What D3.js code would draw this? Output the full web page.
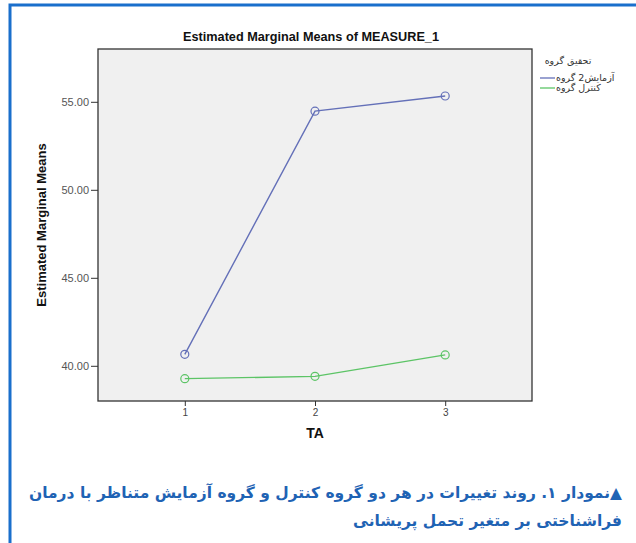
<!DOCTYPE html>
<html>
<head>
<meta charset="utf-8">
<script src="https://cdn.jsdelivr.net/npm/d3@7"></script>
<style>
  body { margin: 0; background: #fff; }
  svg { display: block; }
</style>
</head>
<body>
<div id="chart"></div>
<script>
const levels = [1, 2, 3];
const seriesNames = ["آزمایش2 گروه", "کنترل گروه"];
const experimentMeans = [40.65, 54.47, 55.33];
const controlMeans = [39.27, 39.40, 40.62];
const yTicks = [40, 45, 50, 55];
const legendTitle = "تحقیق گروه";
const captionLines = [
  "▲نمودار ۱. روند تغییرات در هر دو گروه کنترل و گروه آزمایش متناظر با درمان",
  "فراشناختی بر متغیر تحمل پریشانی"
];

const W = 636, H = 543;
const margin = { top: 49, left: 98 },
      width = 532 - 98,
      height = 401 - 49;

const svg = d3.select("#chart")
              .append("svg")
              .attr("width", W)
              .attr("height", H);

// blue frame of the figure
svg.append("path")
   .attr("d", `M10,${H} V5 H${W}`)
   .attr("fill", "none")
   .attr("stroke", "#1a6fcc")
   .attr("stroke-width", 3);

const g = svg.append("g")
             .attr("transform", `translate(${margin.left},${margin.top})`);

const x = d3.scaleLinear()
            .domain([1 / 3, 11 / 3])
            .range([0, width]);

const y = d3.scaleLinear()
            .domain([38, 58])
            .range([height, 0]);

g.append("rect")
 .attr("width", width)
 .attr("height", height)
 .attr("fill", "#f0f0f0")
 .attr("stroke", "#333")
 .attr("stroke-width", 1.3);

// Y Axis
const yAxis = g.append("g")
               .call(d3.axisLeft(y).tickValues(yTicks).tickSize(7).tickFormat(d3.format(".2f")));
yAxis.select(".domain").remove();
yAxis.selectAll("line").attr("stroke", "#333");
yAxis.selectAll("text")
     .attr("x", -9)
     .attr("fill", "#555")
     .style("font-family", "'Liberation Sans', Arial, sans-serif")
     .style("font-size", "11px");

// X Axis
const xAxis = g.append("g")
               .attr("transform", `translate(0,${height})`)
               .call(d3.axisBottom(x).tickValues(levels).tickSize(5).tickFormat(d3.format("d")));
xAxis.select(".domain").remove();
xAxis.selectAll("line").attr("stroke", "#333");
xAxis.selectAll("text")
     .attr("y", 8)
     .attr("fill", "#444")
     .style("font-family", "'Liberation Sans', Arial, sans-serif")
     .style("font-size", "10px");

// titles
svg.append("text")
   .attr("x", 311)
   .attr("y", 41)
   .attr("text-anchor", "middle")
   .style("font-family", "'Liberation Sans', Arial, sans-serif")
   .style("font-weight", "bold")
   .style("font-size", "12.7px")
   .attr("fill", "#111")
   .text("Estimated Marginal Means of MEASURE_1");

svg.append("text")
   .attr("x", 315)
   .attr("y", 438)
   .attr("text-anchor", "middle")
   .style("font-family", "'Liberation Sans', Arial, sans-serif")
   .style("font-weight", "bold")
   .style("font-size", "14px")
   .attr("fill", "#111")
   .text("TA");

svg.append("text")
   .attr("transform", "translate(46,225) rotate(-90)")
   .attr("text-anchor", "middle")
   .style("font-family", "'Liberation Sans Narrow', 'Liberation Sans', Arial, sans-serif")
   .style("font-weight", "bold")
   .style("font-size", "13px")
   .attr("fill", "#111")
   .text("Estimated Marginal Means");

// Lines
const color = d3.scaleOrdinal(seriesNames, ["#6470b8", "#5cc466"]);
const series = [
  { name: seriesNames[0], values: experimentMeans },
  { name: seriesNames[1], values: controlMeans }
];

const line = d3.line()
               .x((d, i) => x(levels[i]))
               .y(d => y(d));

g.selectAll(".line")
 .data(series)
 .join("path")
 .attr("fill", "none")
 .attr("stroke", d => color(d.name))
 .attr("stroke-width", 1.4)
 .attr("d", d => line(d.values));

g.selectAll(".dot")
 .data(series.flatMap(s => s.values.map((v, i) => ({ name: s.name, level: levels[i], value: v }))))
 .join("circle")
 .attr("cx", d => x(d.level))
 .attr("cy", d => y(d.value))
 .attr("r", 4)
 .attr("fill", "none")
 .attr("stroke", d => color(d.name))
 .attr("stroke-width", 1.2);

// Legend
const legend = svg.append("g")
                  .attr("transform", "translate(540,0)")
                  .style("font-family", "'DejaVu Sans', sans-serif")
                  .style("font-size", "9.5px");

legend.append("text")
      .attr("x", 28)
      .attr("y", 64)
      .attr("text-anchor", "middle")
      .attr("fill", "#333")
      .text(legendTitle);

const item = legend.selectAll(".item")
                   .data(seriesNames)
                   .join("g")
                   .attr("transform", (d, i) => `translate(0,${78 + i * 10})`);

item.append("line")
    .attr("x1", 0)
    .attr("x2", 15)
    .attr("stroke", d => color(d))
    .attr("stroke-width", 1.3);

item.append("text")
    .attr("x", 16)
    .attr("y", 3)
    .attr("fill", "#333")
    .text(d => d);

// Caption
svg.selectAll(".caption")
   .data(captionLines)
   .join("text")
   .attr("x", 622)
   .attr("y", (d, i) => 498 + i * 28)
   .attr("text-anchor", "start")
   .attr("direction", "rtl")
   .style("font-family", "'DejaVu Sans', sans-serif")
   .style("font-weight", "bold")
   .style("font-size", "15.5px")
   .attr("fill", "#1f63b4")
   .text(d => d);
</script>
</body>
</html>
